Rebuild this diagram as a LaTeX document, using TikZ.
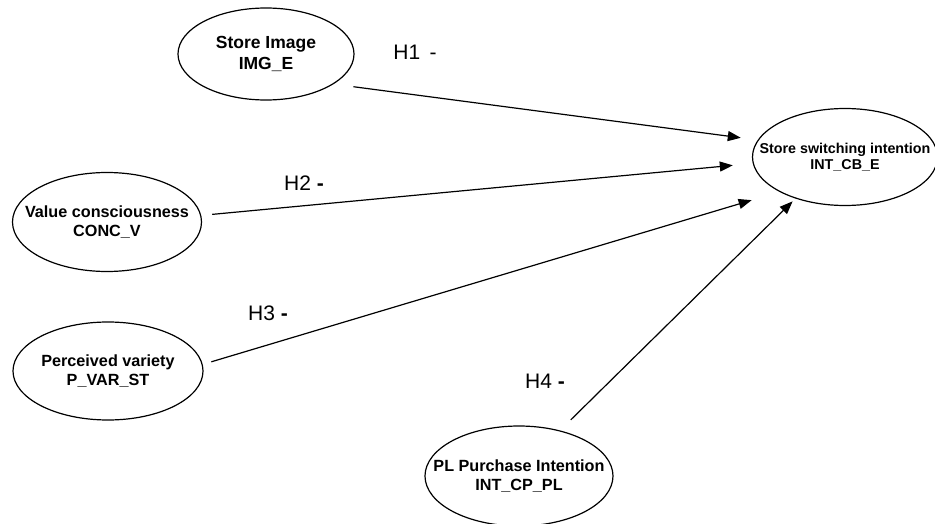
\documentclass[tikz,border=0pt]{standalone}
\usepackage{fontspec}
\setmainfont{Liberation Sans}
\usetikzlibrary{shapes.geometric,arrows.meta}

\tikzset{
  ctext/.style={align=center, font=\bfseries\fontsize{16.2}{18.5}\selectfont},
  construct/.style 2 args={draw, ellipse, line width=1.2pt, inner sep=0pt,
    label={[ctext,#1]center:#2}},
  hyp/.style={font=\fontsize{21}{24}\selectfont},
  link/.style={-{Triangle[length=13pt,width=10pt]}, line width=1.2pt}
}

\begin{document}
\begin{tikzpicture}[x=1pt, y=-1pt]
    \useasboundingbox (0,0) rectangle (935,524);

    % Constructs
    \node[construct={font=\bfseries\fontsize{17.5}{21}\selectfont}{Store Image\\IMG\_E},
          minimum width=176pt, minimum height=92pt] (img) at (266,54) {};
    \node[construct={}{Value consciousness\\CONC\_V},
          minimum width=189pt, minimum height=99pt] (vc) at (107,222) {};
    \node[construct={}{Perceived variety\\P\_VAR\_ST},
          minimum width=190pt, minimum height=98pt] (pv) at (108,371) {};
    \node[construct={font=\bfseries\fontsize{14.3}{16.5}\selectfont}{Store switching intention\\INT\_CB\_E},
          minimum width=185pt, minimum height=97pt] (sw) at (845,157) {};
    \node[construct={}{PL Purchase Intention\\INT\_CP\_PL},
          minimum width=188pt, minimum height=100pt] (pl) at (519,476) {};

    % Hypothesised paths
    \draw[link, shorten <=20pt, shorten >=17pt] (img.-24) -- (sw.169);
    \draw[link, shorten <=11pt, shorten >=20pt] (vc.4) -- (sw.184);
    \draw[link, shorten <=9pt, shorten >=29pt] (pv.4) -- (sw.208);
    \draw[link, shorten <=15pt, shorten >=4pt] (pl.48) -- (sw.220);

    % Labels
    \node[hyp] (h1) at (415,52) {H1 \,-};
    \node[hyp] (h2) at (304,183) {H2 \textbf{-}};
    \node[hyp] (h3) at (268,313) {H3 \textbf{-}};
    \node[hyp] (h4) at (545,381) {H4 \textbf{-}};
\end{tikzpicture}
\end{document}
